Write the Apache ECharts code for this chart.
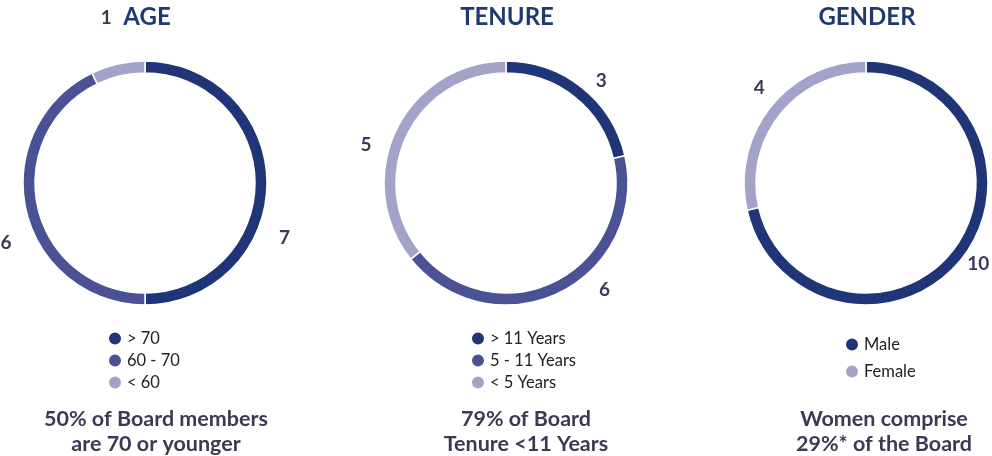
<!DOCTYPE html>
<html><head><meta charset="utf-8">
<script src="https://cdn.jsdelivr.net/npm/echarts@6/dist/echarts.min.js"></script>
<style>html,body{margin:0;padding:0;background:#fff}#c{width:992px;height:456px}</style>
</head><body><div id="c"></div>
<script>
const titles = ['AGE', 'TENURE', 'GENDER'];
const ageNames = ['> 70', '60 - 70', '< 60'];
const ageValues = [7, 6, 1];
const tenureNames = ['> 11 Years', '5 - 11 Years', '< 5 Years'];
const tenureValues = [3, 6, 5];
const genderNames = ['Male', 'Female'];
const genderValues = [10, 4];
const captions = ['50% of Board members\nare 70 or younger', '79% of Board\nTenure <11 Years', 'Women comprise\n29%* of the Board'];

const colors3 = ['#1f3577', '#4a5194', '#a3a3c9'];
const colors2 = ['#1f3577', '#a3a3c9'];
const centersX = [145, 506, 866];
const titleX = [142, 502, 862];
const legendLeft = [102, 465, 839];
const legendTop = [325, 325, 331];
const legendGap = [5, 5, 10];
const captionX = [151, 521, 879];
// label nudges (px) per slice, layout only
const labelNudge = [
  [[-2, 55], [-1, 30], [-3, -33]],
  [[5, 4], [34, -16], [-12, 21]],
  [[-5, -4], [5, -10]]
];

const font = 'Lato, "Open Sans", sans-serif';
const sets = [[ageNames, ageValues, colors3], [tenureNames, tenureValues, colors3], [genderNames, genderValues, colors2]];

const series = sets.map((s, i) => ({
  type: 'pie',
  center: [centersX[i], 183],
  radius: [110, 122],
  startAngle: 90,
  clockwise: true,
  avoidLabelOverlap: false,
  color: s[2],
  itemStyle: {borderColor: '#fff', borderWidth: 1.5},
  label: {show: true, position: 'outside', formatter: '{c}', fontFamily: font, fontWeight: 'bold', fontSize: 19, color: '#3b3a55', distanceToLabelLine: 0},
  labelLine: {show: false, length: 14, length2: 0},
  labelLayout: (p) => {
    const n = labelNudge[i][p.dataIndex];
    return {x: p.labelRect.x + p.labelRect.width / 2 + n[0], y: p.labelRect.y + p.labelRect.height / 2 + n[1], align: 'center', verticalAlign: 'middle'};
  },
  emphasis: {disabled: true},
  data: s[0].map((n, k) => ({name: n, value: s[1][k]}))
}));

const option = {
  animation: false,
  title: titles.map((t, i) => ({
    text: t, left: titleX[i], top: 0, textAlign: 'center',
    textStyle: {fontFamily: font, fontWeight: 'bold', fontSize: 24, color: '#1f3a73'}
  })).concat(captions.map((c, i) => ({
    text: c, left: captionX[i], top: 402, textAlign: 'center',
    textStyle: {fontFamily: font, fontWeight: 'bold', fontSize: 21.5, color: '#3b3a55', lineHeight: 25}
  }))),
  legend: sets.map((s, i) => ({
    data: s[0], orient: 'vertical', left: legendLeft[i], top: legendTop[i],
    icon: 'circle', itemWidth: 14, itemHeight: 14, itemGap: legendGap[i],
    selectedMode: false,
    textStyle: {fontFamily: font, fontSize: 16.5, color: '#222', padding: [0, 0, 0, 0]}
  })),
  series: series
};
const chart = echarts.init(document.getElementById('c'), null, {renderer: 'canvas'});
chart.setOption(option);
</script></body></html>
